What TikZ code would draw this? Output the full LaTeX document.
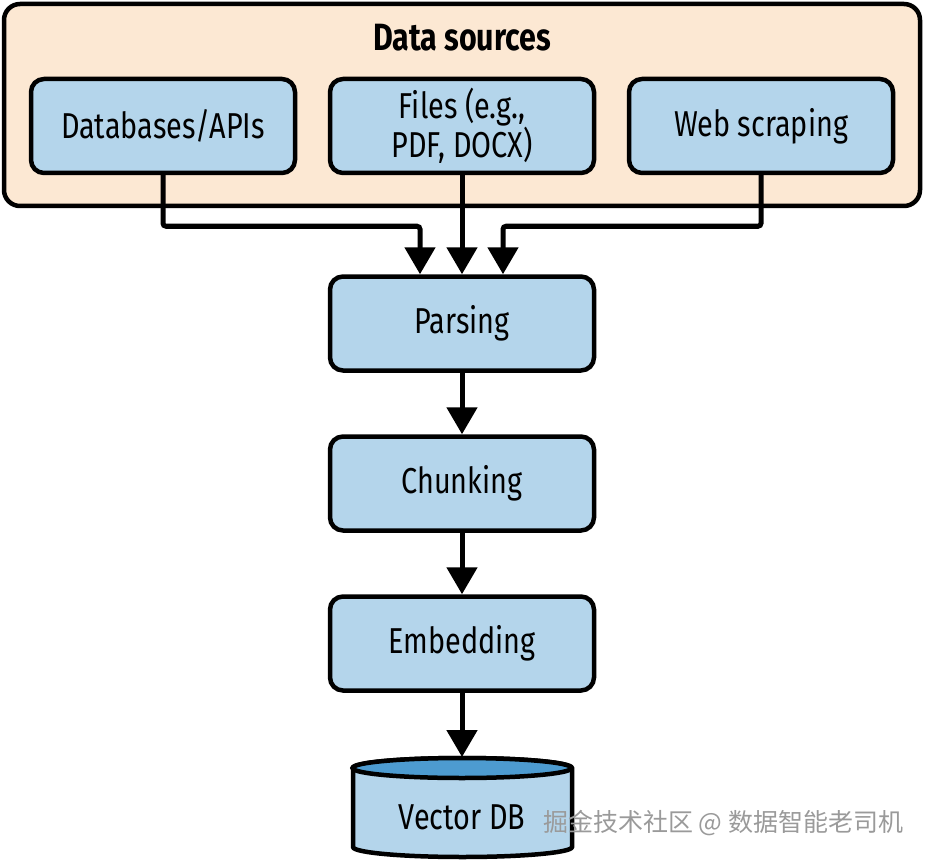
\documentclass[tikz,border=0pt]{standalone}
\usepackage{fontspec}
\setmainfont[FakeStretch=0.80]{Fira Sans}
\newfontfamily\cjk{Noto Sans CJK SC}
\usetikzlibrary{arrows.meta,calc}
\definecolor{peach}{HTML}{FCE8D3}
\definecolor{boxblue}{HTML}{B4D5EB}
\definecolor{topblue}{HTML}{4D9BD0}
\definecolor{wmgrey}{HTML}{9A9A9A}
\begin{document}
\begin{tikzpicture}[x=1pt,y=-1pt,
  stepbox/.style={draw=black,line width=4.5pt,fill=boxblue,rounded corners=13pt,
    minimum width=264pt,minimum height=94pt,align=center,
    font=\fontsize{36}{38}\selectfont,inner sep=0pt},
  arr/.style={line width=5pt,-{Triangle[length=27pt,width=30pt]}},
  link/.style={line width=5pt,rounded corners=3pt}]
\useasboundingbox (0,0) rectangle (926,861);
% outer container
\draw[line width=4.5pt,fill=peach,rounded corners=16pt] (4,4) rectangle (920,206);
\node[font=\bfseries\fontsize{38}{40}\selectfont] (title) at (462,38) {Data sources};
% sources
\node[stepbox] (db) at (163,126) {Databases/APIs};
\node[stepbox] (files) at (462,126) {Files (e.g.,\\PDF, DOCX)};
\node[stepbox] (web) at (761,126) {Web scraping};
% pipeline
\node[stepbox] (parse) at (462,323.5) {Parsing};
\node[stepbox] (chunk) at (462,483.5) {Chunking};
\node[stepbox] (embed) at (462,643.5) {Embedding};
% cylinder
\coordinate (cylc) at (462,768);
\filldraw[line width=4.5pt,fill=boxblue]
  (353,768) -- (353,847) arc[start angle=180,end angle=360,x radius=109.5,y radius=-10]
  -- (572,768) arc[start angle=0,end angle=180,x radius=109.5,y radius=-10] -- cycle;
\filldraw[line width=4.5pt,fill=topblue] (cylc) ellipse[x radius=109.5,y radius=10];
\node[font=\fontsize{36}{38}\selectfont,inner sep=0pt] (vdb) at (462,817) {Vector DB};
\coordinate (vdbtop) at (462,757);
% inlets
\coordinate (inL) at ($(parse.north)+(-42,0)$);
\coordinate (inR) at ($(parse.north)+(41,0)$);
% connectors
\draw[link,arr] (db.south) -- ++(0,51) -| (inL);
\draw[arr] (files.south) -- (parse.north);
\draw[link,arr] (web.south) -- ++(0,51) -| (inR);
\draw[arr] (parse.south) -- (chunk.north);
\draw[arr] (chunk.south) -- (embed.north);
\draw[arr] (embed.south) -- (vdbtop);
% watermark
\node[font=\cjk\fontsize{25}{28}\selectfont,text=wmgrey,anchor=west,inner sep=0pt] (wm) at (543,823) {掘金技术社区 @ 数据智能老司机};
\end{tikzpicture}
\end{document}
